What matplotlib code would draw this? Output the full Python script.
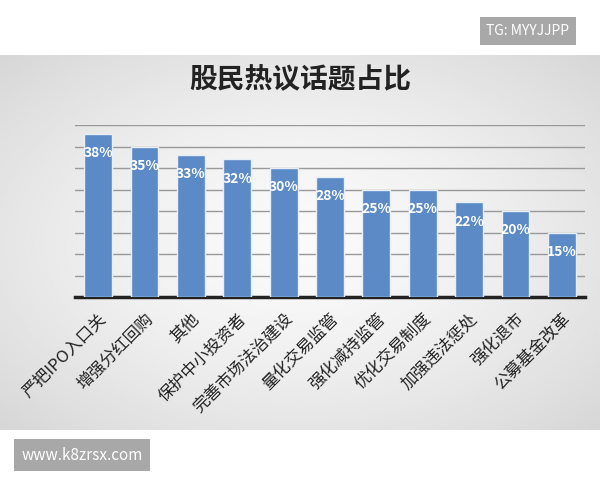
import matplotlib.pyplot as plt
import numpy as np

plt.rcParams['font.family'] = ['Noto Sans CJK SC', 'DejaVu Sans']

topics = ['严把IPO入口关', '增强分红回购', '其他', '保护中小投资者', '完善市场法治建设',
          '量化交易监管', '强化减持监管', '优化交易制度', '加强违法惩处', '强化退市', '公募基金改革']
shares = [38, 35, 33, 32, 30, 28, 25, 25, 22, 20, 15]

fig = plt.figure(figsize=(6, 4.8), dpi=100)

# gray gradient panel
bg = fig.add_axes([0, 1 - 430 / 480, 1, 375 / 480])
yy, xx = np.mgrid[-1:1:200j, -1:1:250j]
r = np.sqrt(xx ** 2 + yy ** 2) / np.sqrt(2)
bg.imshow(0.98 - 0.14 * r ** 1.5, cmap='gray', vmin=0, vmax=1, aspect='auto',
          extent=[0, 1, 0, 1])
bg.axis('off')

ax = fig.add_axes([75 / 600, 1 - 297 / 480, 510 / 600, 172 / 480])
ax.set_facecolor('none')
x = np.arange(len(topics))
ax.bar(x, shares, width=0.6, color='#5b8ac6', edgecolor='#e8eef6', linewidth=1, zorder=3)
for xi, v in zip(x, shares):
    ax.text(xi, v - 4.5, f'{v}%', ha='center', va='center', color='white',
            fontsize=10, fontweight='bold', zorder=4)
ax.set_xlim(-0.5, len(topics) - 0.5)
ax.set_ylim(0, 40)
ax.set_yticks(np.arange(5, 41, 5))
ax.grid(axis='y', color='#999999', linewidth=1, zorder=0)
ax.tick_params(left=False, labelleft=False, bottom=False, pad=6)
for s in ['top', 'right', 'left']:
    ax.spines[s].set_visible(False)
ax.spines['bottom'].set_linewidth(2.5)
ax.spines['bottom'].set_color('#222222')
ax.set_xticks(x)
ax.set_xticklabels(topics, rotation=45, ha='right', rotation_mode='anchor',
                   fontsize=12, color='#222222')

fig.text(0.5, 1 - 80 / 480, '股民热议话题占比', ha='center', va='center',
         fontsize=20, fontweight='bold', color='#222222')

fig.text(528 / 600, 1 - 31 / 480, 'TG: MYYJJPP', ha='center', va='center', color='white',
         fontsize=10, bbox=dict(boxstyle='square,pad=0.5', fc='#a8a8a8', ec='none'))
fig.text(82 / 600, 1 - 455 / 480, 'www.k8zrsx.com', ha='center', va='center', color='white',
         fontsize=11, bbox=dict(boxstyle='square,pad=0.5', fc='#a8a8a8', ec='none'))

fig.savefig('out.png', dpi=100)
